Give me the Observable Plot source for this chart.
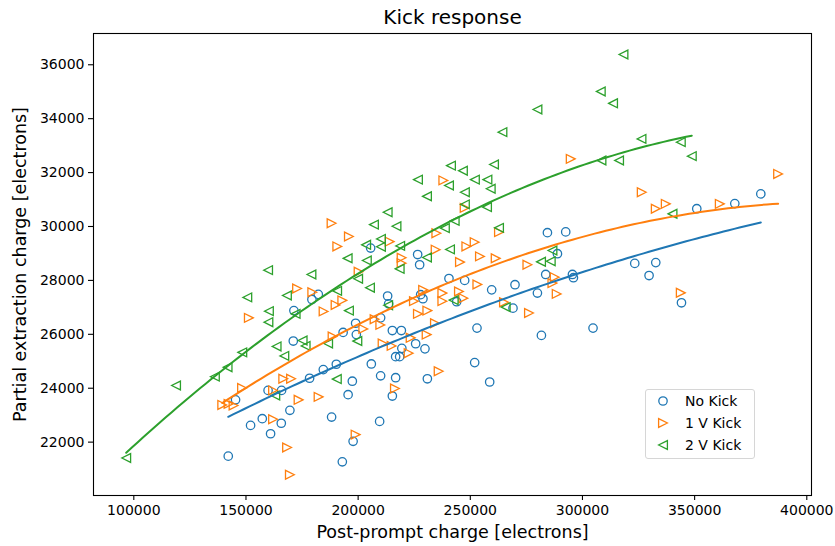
<!DOCTYPE html>
<html>
<head>
<meta charset="utf-8">
<script src="https://cdn.jsdelivr.net/npm/d3@7"></script>
<script src="https://cdn.jsdelivr.net/npm/@observablehq/plot@0.6"></script>
<style>
  html, body { margin: 0; padding: 0; background: #fff; }
  #wrap { position: relative; width: 835px; height: 546px; font-family: "DejaVu Sans", sans-serif; }
  #legend {
    position: absolute; left: 645px; top: 389px; width: 110px; height: 70px;
    box-sizing: border-box; border: 1px solid #d6d6d6; border-radius: 3px;
    background: rgba(255,255,255,0.85); font-size: 14px; color: #000;
  }
  .row { position: absolute; left: 0; height: 20px; display: flex; align-items: center; }
  .row svg { margin-left: 11px; }
  .row span { margin-left: 16px; white-space: nowrap; }
</style>
</head>
<body>
<div id="wrap"></div>
<script>
// Series measured for each kick setting: post-prompt charge (x) vs partial extraction charge (y)
const seriesNames = ["No Kick", "1 V Kick", "2 V Kick"];
const seriesColors = ["#1f77b4", "#ff7f0e", "#2ca02c"];

const noKickX = [142100,145360,152050,157270,159850,160970,165870,165740,169580,171090,171360,179390,182240,178360,184470,190270,188170,192950,193300,198880,199190,197410,195530,197760,205570,205880,209580,210030,210030,213150,213600,215250,215250,216720,216720,218500,219260,219480,225640,226530,227420,227870,228890,229790,230860,240490,243920,247490,251950,252980,258640,259530,269930,269030,279920,281700,283620,284380,288840,292540,295530,295970,304710,323310,329690,332680,344140,350960,367910,379510];
const noKickY = [21480,23570,22620,22870,23920,22310,23920,22700,23180,25750,26880,27290,27480,24370,24690,24890,22930,21270,26070,26410,25990,24260,23760,22030,29200,24900,22770,26610,24460,27420,27130,26140,23710,24390,25170,25170,26140,25480,25650,28960,28580,27470,27320,25460,24350,28070,27210,28000,24950,26230,24230,27650,27840,26970,27530,25960,28220,29770,28990,29800,28220,28100,26230,28630,28180,28660,27170,30660,30850,31210];

const kick1X = [139430,142240,144470,148260,151290,162080,162080,166630,170110,168330,169580,172790,179570,173460,182380,184610,189960,188620,188170,195890,190720,192950,200220,198880,202310,207350,209890,210920,214930,214040,216410,219390,219390,222520,223410,226660,228980,224880,230860,234250,230540,235900,234870,234560,237990,237550,237550,244950,246910,245400,247490,248250,251950,254320,253160,265020,275460,276170,286610,287630,288520,294770,326430,332680,337140,361220,387220,343830,262790,261320];
const kick1Y = [23380,23420,23360,24010,26610,23920,22850,24350,24350,21800,20790,27700,27560,23570,23680,26850,27090,25920,30120,29630,29260,27260,28320,22280,26200,26560,26350,25660,25570,29440,23990,28840,28640,25300,25870,26760,27650,27230,26880,26410,25990,24630,29750,29140,31710,27530,27230,27590,27340,28680,30690,29260,29420,28890,27850,27190,28580,26790,27900,28120,27500,32510,31270,30660,30840,30840,31950,27540,29790,28820];

const kick2X = [96610,118820,136130,141790,148350,150580,159850,179170,168240,160210,159990,163640,167080,175240,176580,172120,186610,190490,163060,190630,241380,246690,226660,240490,230680,252040,257620,247580,247580,213150,207040,217080,203560,210160,210160,218730,195310,203870,218500,199990,205260,230680,240940,238660,243030,257440,213370,279920,264310,260560,259090,262790,281520,285850,286610,318270,308150,313630,326300,343830,348730,308460,316310,340130,195890,199640,242590,265780];
const kick2Y = [21410,24100,24430,24780,25330,27370,28380,28220,27440,26860,26450,25550,25200,25770,25570,26760,25660,24340,23730,27610,32260,32070,31740,31520,31120,31740,31740,31270,30820,30530,30070,30010,29320,29540,29250,29280,28820,28740,28430,28060,27730,28850,29150,29940,30210,30720,27080,34340,33500,32300,31400,29950,28690,28710,29110,36380,35010,34570,33250,33130,32610,32450,32450,30470,26880,25750,27270,27010];

const xTicks = [100000, 150000, 200000, 250000, 300000, 350000, 400000];
const yTicks = [22000, 24000, 26000, 28000, 30000, 32000, 34000, 36000];

const titleText = "Kick response";
const xLabel = "Post-prompt charge [electrons]";
const yLabel = "Partial extraction charge [electrons]";

// Open triangle markers pointing right / left (matplotlib ">" and "<")
function triangle(dir) {
  return {
    draw(context, size) {
      const a = Math.sqrt(size / Math.PI);
      context.moveTo(dir * a, 0);
      context.lineTo(-dir * a, a);
      context.lineTo(-dir * a, -a);
      context.closePath();
    }
  };
}
const triRight = triangle(1);
const triLeft = triangle(-1);

const rows = (xs, ys) => xs.map((x, i) => ({x, y: ys[i]}));

// Second-order least-squares fit of y on x
function quadFit(xs, ys) {
  const s = [0, 0, 0, 0, 0], t = [0, 0, 0];
  xs.forEach((x0, i) => {
    const u = x0 / 1e5, y = ys[i];
    let p = 1;
    for (let k = 0; k < 5; k++) { s[k] += p; if (k < 3) t[k] += p * y; p *= u; }
  });
  const A = [[s[0], s[1], s[2], t[0]], [s[1], s[2], s[3], t[1]], [s[2], s[3], s[4], t[2]]];
  for (let c = 0; c < 3; c++) {
    for (let r = c + 1; r < 3; r++) {
      const f = A[r][c] / A[c][c];
      for (let k = c; k < 4; k++) A[r][k] -= f * A[c][k];
    }
  }
  const b = [0, 0, 0];
  for (let r = 2; r >= 0; r--) {
    let v = A[r][3];
    for (let k = r + 1; k < 3; k++) v -= A[r][k] * b[k];
    b[r] = v / A[r][r];
  }
  const [x0, x1] = d3.extent(xs);
  return d3.range(101).map(i => {
    const x = x0 + (x1 - x0) * i / 100, u = x / 1e5;
    return {x, y: b[0] + b[1] * u + b[2] * u * u};
  });
}

const series = [
  {name: seriesNames[0], color: seriesColors[0], data: rows(noKickX, noKickY), fit: quadFit(noKickX, noKickY), symbol: "circle"},
  {name: seriesNames[1], color: seriesColors[1], data: rows(kick1X, kick1Y), fit: quadFit(kick1X, kick1Y), symbol: triRight},
  {name: seriesNames[2], color: seriesColors[2], data: rows(kick2X, kick2Y), fit: quadFit(kick2X, kick2Y), symbol: triLeft}
];

const marks = [];
for (const s of series) {
  marks.push(Plot.dot(s.data, {x: "x", y: "y", symbol: s.symbol, r: s.symbol === "circle" ? 4.2 : 4.4,
    stroke: s.color, fill: "none", strokeWidth: 1.3}));
}
for (const s of series) {
  marks.push(Plot.line(s.fit, {x: "x", y: "y", stroke: s.color, strokeWidth: 2}));
}

const chart = Plot.plot({
  width: 835,
  height: 546,
  marginLeft: 93,
  marginRight: 24,
  marginTop: 33,
  marginBottom: 51,
  style: {fontFamily: "DejaVu Sans, sans-serif", fontSize: "14px", color: "#000", background: "#fff"},
  x: {domain: [82030, 402100]},
  y: {domain: [20020, 37160]},
  marks: [
    ...marks,
    Plot.frame({stroke: "#000", strokeWidth: 1.1}),
    Plot.axisX({ticks: xTicks, tickFormat: "d", tickSize: 5, tickPadding: 5, label: null, strokeWidth: 1.1}),
    Plot.axisY({ticks: yTicks, tickFormat: "d", tickSize: 5, tickPadding: 4, label: null, strokeWidth: 1.1}),
    Plot.text([titleText], {frameAnchor: "top", dy: -16, lineAnchor: "middle", textAnchor: "middle", fontSize: 20, fill: "#000"}),
    Plot.text([xLabel], {frameAnchor: "bottom", dy: 37, lineAnchor: "middle", textAnchor: "middle", fontSize: 17.5, fill: "#000"}),
    Plot.text([yLabel], {frameAnchor: "left", dx: -73, rotate: -90, lineAnchor: "middle", textAnchor: "middle", fontSize: 17.5, fill: "#000"})
  ]
});

const wrap = document.getElementById("wrap");
wrap.appendChild(chart);

// Legend box in the lower right of the plot area
const legend = document.createElement("div");
legend.id = "legend";
series.forEach((s, i) => {
  const row = document.createElement("div");
  row.className = "row";
  row.style.top = (1 + i * 22) + "px";
  let shape;
  if (s.symbol === "circle") {
    shape = `<circle cx="6" cy="6" r="4.2" fill="none" stroke="${s.color}" stroke-width="1.3"/>`;
  } else {
    const d = s.symbol === triRight ? "M10.4,6L1.6,10.4L1.6,1.6Z" : "M1.6,6L10.4,10.4L10.4,1.6Z";
    shape = `<path d="${d}" fill="none" stroke="${s.color}" stroke-width="1.3"/>`;
  }
  row.innerHTML = `<svg width="12" height="12">${shape}</svg><span>${s.name}</span>`;
  legend.appendChild(row);
});
wrap.appendChild(legend);
</script>
</body>
</html>
